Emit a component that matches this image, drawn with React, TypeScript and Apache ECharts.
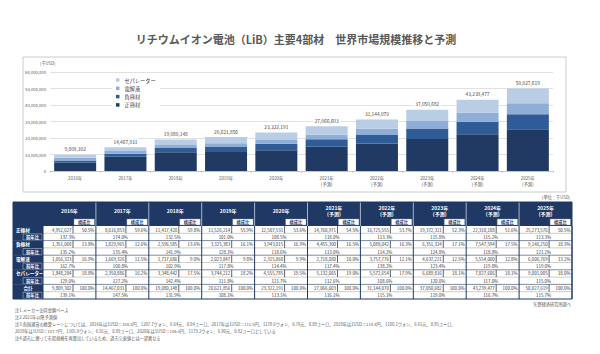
import React, { useEffect, useRef } from "react";
import * as echarts from "echarts";

const years = ["2016年", "2017年", "2018年", "2019年", "2020年", "2021年", "2022年", "2023年", "2024年", "2025年"];
const yearNotes = ["", "", "", "", "", "(予測)", "(予測)", "(予測)", "(予測)", "(予測)"];

const cathode = [4952627, 8616853, 11417420, 11526214, 12507531, 14760971, 16725555, 19372321, 22310188, 25273576];
const anode = [1351068, 1829965, 2596585, 3325383, 3943015, 4455300, 5088042, 6351324, 7547594, 9146250];
const electrolyte = [1656323, 1669326, 1717686, 2023847, 2315860, 2718080, 3757776, 4637221, 5554000, 6606769];
const separator = [1848284, 2350886, 3348442, 3744212, 4555785, 5132065, 5572654, 6689816, 7827606, 9001005];
const totals = [9809302, 14467031, 19080148, 20621856, 23322191, 27066603, 31144070, 37050682, 43239477, 50027619];

const cathodeShare = ["50.5%", "59.6%", "59.8%", "55.9%", "53.6%", "54.5%", "53.7%", "52.3%", "51.6%", "50.5%"];
const anodeShare = ["13.8%", "12.6%", "13.6%", "16.1%", "16.9%", "16.5%", "16.3%", "17.1%", "17.5%", "18.3%"];
const electrolyteShare = ["16.9%", "11.5%", "9.0%", "9.8%", "9.9%", "10.0%", "12.1%", "12.5%", "12.8%", "13.2%"];
const separatorShare = ["18.8%", "16.2%", "17.5%", "18.2%", "19.5%", "19.0%", "17.9%", "18.1%", "18.1%", "18.0%"];
const totalShare = ["100.0%", "100.0%", "100.0%", "100.0%", "100.0%", "100.0%", "100.0%", "100.0%", "100.0%", "100.0%"];

const cathodeYoY = ["137.3%", "174.0%", "132.5%", "101.0%", "108.5%", "118.0%", "113.3%", "115.8%", "115.2%", "113.3%"];
const anodeYoY = ["135.2%", "135.4%", "141.9%", "128.1%", "118.6%", "113.0%", "114.2%", "124.8%", "118.8%", "121.2%"];
const electrolyteYoY = ["162.7%", "100.8%", "102.9%", "117.8%", "114.4%", "117.4%", "138.2%", "123.4%", "119.8%", "119.0%"];
const separatorYoY = ["129.0%", "127.2%", "142.4%", "111.8%", "121.7%", "112.6%", "108.6%", "120.0%", "117.0%", "115.0%"];
const totalYoY = ["139.1%", "147.5%", "131.9%", "108.1%", "113.1%", "116.1%", "115.1%", "119.0%", "116.7%", "115.7%"];

const seriesNames = ["正極材", "負極材", "電解液", "セパレーター"];
const rowLabels = ["正極材", "負極材", "電解液", "セパレーター", "合計"];
const yoyLabel = "前年比";
const shareLabel = "構成比";
const yTicks = [0, 10000000, 20000000, 30000000, 40000000, 50000000, 60000000];

const titleText = "リチウムイオン電池（LiB）主要4部材　世界市場規模推移と予測";
const unitAxis = "(千USD)";
const unitTable = "(単位：千USD)";
const sourceText = "矢野経済研究所調べ";
const notes = [
  "注1.メーカー出荷金額ベース",
  "注2.2021年以降予測値",
  "注3.各国通貨の換算レートについては、2016年は1USD＝108.8円、1207.7ウォン、6.64元、0.94ユーロ、2017年は1USD＝111.5円、1178.6ウォン、6.79元、0.88ユーロ、2018年は1USD＝110.4円、1100.1ウォン、6.61元、0.85ユーロ、",
  "2019年は1USD＝107.7円、1165.9ウォン、6.91元、0.89ユーロ、2020年は1USD＝106.8円、1179.2ウォン、6.90元、0.82ユーロとしている",
  "注4.過去に遡って市場規模を再算出しているため、過去公表値とは一部異なる",
];

const FONT = "'Noto Sans CJK JP', 'Noto Sans', sans-serif";
const NAVY = "#1f3864";
const barColors = ["#203a63", "#2f5c96", "#8eaed7", "#b9cde5"];

const fmt = (v: number) => v.toLocaleString("en-US");

function buildTable(): any[] {
  const els: any[] = [];
  const x0 = 13, lw = 30, cw = 52.9, ht = 202, hh = 24, rh = 7.3;
  const bodyTop = ht + hh;
  const n = years.length;
  const dataX = x0 + lw;
  const totalW = lw + cw * n;
  const bodyH = rh * 10;
  const groups = [
    { v: cathode, s: cathodeShare, y: cathodeYoY },
    { v: anode, s: anodeShare, y: anodeYoY },
    { v: electrolyte, s: electrolyteShare, y: electrolyteYoY },
    { v: separator, s: separatorShare, y: separatorYoY },
    { v: totals, s: totalShare, y: totalYoY },
  ];
  // backgrounds
  els.push({ type: "rect", shape: { x: x0, y: ht, width: totalW, height: hh }, style: { fill: NAVY } });
  els.push({ type: "rect", shape: { x: x0, y: bodyTop, width: lw, height: bodyH }, style: { fill: NAVY } });
  els.push({ type: "rect", shape: { x: dataX, y: bodyTop, width: cw * n, height: bodyH }, style: { fill: "#fff" } });
  // header
  for (let j = 0; j < n; j++) {
    const cx = dataX + j * cw;
    if (j > 0) {
      els.push({ type: "line", shape: { x1: cx, y1: ht, x2: cx, y2: bodyTop }, style: { stroke: "#c9d3e3", lineWidth: 0.8 } });
    }
    if (yearNotes[j]) {
      els.push({ type: "text", x: cx + cw / 2, y: ht + 5.5, style: { text: years[j], fill: "#fff", font: `bold 5px ${FONT}`, textAlign: "center", textVerticalAlign: "middle" } });
      els.push({ type: "text", x: cx + cw / 2, y: ht + 11.5, style: { text: yearNotes[j], fill: "#fff", font: `bold 5px ${FONT}`, textAlign: "center", textVerticalAlign: "middle" } });
    } else {
      els.push({ type: "text", x: cx + cw / 2, y: ht + 8, style: { text: years[j], fill: "#fff", font: `bold 5px ${FONT}`, textAlign: "center", textVerticalAlign: "middle" } });
    }
    els.push({ type: "rect", shape: { x: cx + 31, y: ht + 17, width: cw - 32.5, height: 6 }, style: { fill: "#fff", stroke: "#8090b0", lineWidth: 0.4 } });
    els.push({ type: "text", x: cx + 31 + (cw - 32.5) / 2, y: ht + 20, style: { text: shareLabel, fill: NAVY, font: `bold 4.2px ${FONT}`, textAlign: "center", textVerticalAlign: "middle" } });
  }
  // body rows
  for (let g = 0; g < groups.length; g++) {
    const yv = bodyTop + 2 * g * rh;
    const yy = yv + rh;
    // row label
    const isTotal = g === groups.length - 1;
    els.push({ type: "text", x: isTotal ? x0 + lw / 2 : x0 + 3, y: yv + rh / 2, style: { text: rowLabels[g], fill: "#fff", font: `bold 4.6px ${FONT}`, textAlign: isTotal ? "center" : "left", textVerticalAlign: "middle" } });
    els.push({ type: "rect", shape: { x: x0 + 10, y: yy + 0.6, width: lw - 11, height: rh - 1.2 }, style: { fill: NAVY, stroke: "#fff", lineWidth: 0.4 } });
    els.push({ type: "text", x: x0 + 10 + (lw - 11) / 2, y: yy + rh / 2, style: { text: yoyLabel, fill: "#fff", font: `bold 4.4px ${FONT}`, textAlign: "center", textVerticalAlign: "middle" } });
    // horizontal lines
    els.push({ type: "line", shape: { x1: dataX, y1: yy, x2: dataX + cw * n, y2: yy }, style: { stroke: "#9a9a9a", lineWidth: 0.5 } });
    if (g > 0) {
      els.push({ type: "line", shape: { x1: x0, y1: yv, x2: dataX + cw * n, y2: yv }, style: { stroke: "#4a5a78", lineWidth: 0.7 } });
    }
    for (let j = 0; j < n; j++) {
      const cx = dataX + j * cw;
      els.push({ type: "line", shape: { x1: cx + 30, y1: yv, x2: cx + 30, y2: yy }, style: { stroke: "#222", lineWidth: 0.7 } });
      els.push({ type: "text", x: cx + 28.5, y: yv + rh / 2, style: { text: fmt(groups[g].v[j]), fill: "#333", font: `4.4px ${FONT}`, textAlign: "right", textVerticalAlign: "middle" } });
      els.push({ type: "text", x: cx + cw - 1.5, y: yv + rh / 2, style: { text: groups[g].s[j], fill: "#333", font: `4.4px ${FONT}`, textAlign: "right", textVerticalAlign: "middle" } });
      els.push({ type: "text", x: cx + cw / 2 - 2, y: yy + rh / 2, style: { text: groups[g].y[j], fill: "#333", font: `4.4px ${FONT}`, textAlign: "center", textVerticalAlign: "middle" } });
    }
  }
  // vertical year separators in body
  for (let j = 0; j <= n; j++) {
    const cx = dataX + j * cw;
    els.push({ type: "line", shape: { x1: cx, y1: bodyTop, x2: cx, y2: bodyTop + bodyH }, style: { stroke: NAVY, lineWidth: 1 } });
  }
  els.push({ type: "rect", shape: { x: x0, y: ht, width: totalW, height: hh + bodyH }, style: { fill: "none", stroke: NAVY, lineWidth: 1 } });
  return els;
}

export default function App() {
  const ref = useRef<HTMLDivElement>(null);
  useEffect(() => {
    if (!ref.current) return;
    const chart = echarts.init(ref.current, null, { renderer: "svg" });
    const catLabels = years.map((y, i) => (yearNotes[i] ? `${y}\n${yearNotes[i]}` : y));
    const seriesData = [cathode, anode, electrolyte, separator];
    const graphics: any[] = [
      { type: "rect", z: -10, shape: { x: 23, y: 57, width: 543, height: 135 }, style: { fill: "#fff", stroke: "#bfbfbf", lineWidth: 0.8 } },
      { type: "text", x: 296, y: 39, style: { text: titleText, fill: "#595959", font: `bold 11px ${FONT}`, textAlign: "center", textVerticalAlign: "middle" } },
      { type: "text", x: 40, y: 63, style: { text: unitAxis, fill: "#595959", font: `4.2px ${FONT}`, textAlign: "left", textVerticalAlign: "middle" } },
      { type: "text", x: 570, y: 197, style: { text: unitTable, fill: "#595959", font: `4.2px ${FONT}`, textAlign: "right", textVerticalAlign: "middle" } },
      { type: "text", x: 571, y: 304, style: { text: sourceText, fill: "#595959", font: `4.2px ${FONT}`, textAlign: "right", textVerticalAlign: "middle" } },
      ...notes.map((t, i) => ({ type: "text", x: 15, y: 310 + i * 7, style: { text: t, fill: "#595959", font: `4.2px ${FONT}`, textAlign: "left", textVerticalAlign: "middle" } })),
      ...buildTable(),
    ];
    chart.setOption({
      animation: false,
      backgroundColor: "#fff",
      textStyle: { fontFamily: FONT },
      grid: { left: 50, right: 47, top: 72, bottom: 183, containLabel: false },
      legend: {
        data: [...seriesNames].reverse(),
        orient: "vertical",
        left: 112,
        top: 76,
        padding: [1, 4, 1, 4],
        itemGap: 2.3,
        itemWidth: 3.5,
        itemHeight: 3.5,
        icon: "rect",
        backgroundColor: "#fff",
        textStyle: { fontSize: 5.2, color: "#404040", lineHeight: 6, fontFamily: FONT },
      },
      xAxis: {
        type: "category",
        data: catLabels,
        axisLine: { lineStyle: { color: "#bfbfbf", width: 0.8 } },
        axisTick: { show: true, length: 2, lineStyle: { color: "#bfbfbf", width: 0.8 } },
        axisLabel: { fontSize: 4.4, color: "#595959", lineHeight: 6, margin: 4, fontFamily: FONT },
      },
      yAxis: {
        type: "value",
        min: 0,
        max: 60000000,
        interval: 10000000,
        axisLine: { show: false },
        axisTick: { show: false },
        axisLabel: { fontSize: 4.2, color: "#595959", margin: 4, formatter: (v: number) => fmt(v), fontFamily: FONT },
        splitLine: { lineStyle: { color: "#d9d9d9", width: 0.8 } },
      },
      series: seriesNames.map((name, k) => ({
        name,
        type: "bar",
        stack: "total",
        barWidth: 42,
        data: seriesData[k],
        itemStyle: { color: barColors[k] },
        label:
          k === seriesNames.length - 1
            ? {
                show: true,
                position: "top",
                distance: 3,
                formatter: (p: any) => fmt(totals[p.dataIndex]),
                fontSize: 4.8,
                color: "#404040",
                backgroundColor: "#fff",
                padding: [0.5, 1.5],
                fontFamily: FONT,
              }
            : { show: false },
      })),
      graphic: graphics,
    });
    return () => chart.dispose();
  }, []);
  return <div ref={ref} style={{ position: "absolute", left: 0, top: 0, width: 600, height: 354 }} />;
}
